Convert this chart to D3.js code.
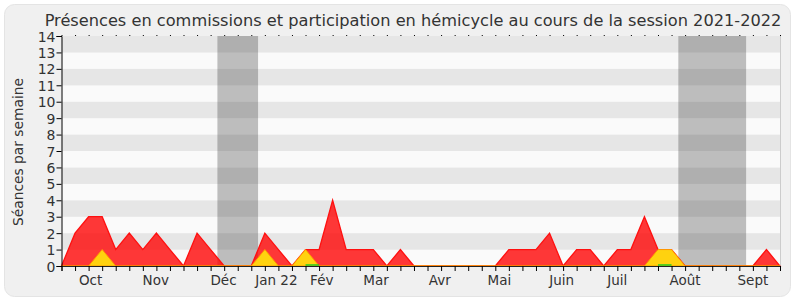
<!DOCTYPE html>
<html>
<head>
<meta charset="utf-8">
<script src="https://cdn.jsdelivr.net/npm/d3@7"></script>
<style>
  body { margin: 0; background: #fff; }
  text { font-family: "DejaVu Sans", sans-serif; fill: #333; }
</style>
</head>
<body>
<div id="chart"></div>
<script>
// Weekly values, session 2021-2022 (54 weeks)
const commissions = [0, 2, 3, 3, 1, 2, 1, 2, 1, 0, 2, 1, 0, 0, 0, 2, 1, 0, 1, 1,
    4, 1, 1, 1, 0, 1, 0, 0, 0, 0, 0, 0, 0, 1, 1, 1, 2, 0, 1, 1,
    0, 1, 1, 3, 1, 1, 0, 0, 0, 0, 0, 0, 1, 0]
const hemicycle = [0, 0, 0, 1, 0, 0, 0, 0, 0, 0, 0, 0, 0, 0, 0, 1, 0, 0, 1, 0,
    0, 0, 0, 0, 0, 0, 0, 0, 0, 0, 0, 0, 0, 0, 0, 0, 0, 0, 0, 0,
    0, 0, 0, 0, 1, 1, 0, 0, 0, 0, 0, 0, 0, 0]
const questions = [null, null, null, null, null, null, null, null, null, null, null, null, null, null, null, null, null, null, 0, 0,
    null, null, null, null, null, null, null, null, null, null, null, null, null, null, null, null, null, null, null, null,
    null, null, null, null, 0, 0, null, null, null, null, null, null, null, null]

// Month labels and their week index
const months = ["Oct", "Nov", "Déc", "Jan 22", "Fév", "Mar", "Avr", "Mai", "Juin", "Juil", "Août", "Sept"]
const monthWeeks = [2.15, 6.95, 11.95, 15.85, 19.2, 23.2, 27.9, 32.3, 36.9, 41, 46, 51]

// Parliamentary holidays (week index ranges)
const holidays = [[11.5, 14.5], [45.5, 50.5]]

const yTicks = d3.range(0, 15)

const W = 800, H = 300
const margin = {top: 36, right: 20, bottom: 34, left: 61.5}
const width = W - margin.left - margin.right
const height = H - margin.top - margin.bottom

const svg = d3.select("#chart").append("svg")
    .attr("width", W)
    .attr("height", H)

// frame
svg.append("rect")
    .attr("x", 4.5).attr("y", 4.5)
    .attr("width", 786).attr("height", 292)
    .attr("rx", 10)
    .attr("fill", "#f0f0f0")
    .attr("stroke", "#e4e4e4")

svg.append("text")
    .attr("x", 413)
    .attr("y", 26)
    .attr("text-anchor", "middle")
    .attr("font-size", "16.2px")
    .text("Présences en commissions et participation en hémicycle au cours de la session 2021-2022")

const g = svg.append("g")
    .attr("transform", "translate(" + margin.left + "," + margin.top + ")")

const x = d3.scaleLinear()
    .domain([0, commissions.length - 1])
    .range([0, width])
const y = d3.scaleLinear()
    .domain([0, 14])
    .range([height, 0])

// background bands
g.selectAll(".band")
    .data(d3.range(0, 14))
    .join("rect")
    .attr("class", "band")
    .attr("x", 0)
    .attr("width", width)
    .attr("y", d => y(d + 1))
    .attr("height", d => y(d) - y(d + 1))
    .attr("fill", d => d % 2 ? "#e6e6e6" : "#fafafa")

// holidays
g.selectAll(".holiday")
    .data(holidays)
    .join("rect")
    .attr("class", "holiday")
    .attr("x", d => x(d[0]))
    .attr("width", d => x(d[1]) - x(d[0]))
    .attr("y", 0)
    .attr("height", height)
    .attr("fill", "rgba(50,50,50,0.3)")

// right border
g.append("line")
    .attr("x1", width + 0.5).attr("x2", width + 0.5)
    .attr("y1", 0).attr("y2", height)
    .attr("stroke", "#cccccc")

const area = d3.area()
    .x((d, i) => x(i))
    .y0(y(0))
    .y1(d => y(d))

g.append("path")
    .datum(commissions)
    .attr("d", area)
    .attr("fill", "rgba(255,0,0,0.78)")
    .attr("stroke", "#ff1010")
    .attr("stroke-width", 1.3)

g.append("path")
    .datum(hemicycle)
    .attr("d", area)
    .attr("fill", "#ffd20f")
    .attr("stroke", "#ff9a00")
    .attr("stroke-width", 1)

g.append("path")
    .datum(questions)
    .attr("d", d3.line().defined(d => d !== null).x((d, i) => x(i)).y(d => y(d) - 1))
    .attr("fill", "none")
    .attr("stroke", "#22cc22")
    .attr("stroke-width", 1.5)

// axes
const xAxis = g.append("g")
    .attr("transform", "translate(0," + height + ")")
    .call(d3.axisBottom(x).tickValues(d3.range(commissions.length)).tickSize(5).tickFormat(""))
xAxis.select(".domain").attr("stroke", "#222")

g.append("g")
    .call(d3.axisTop(x).tickValues(d3.range(commissions.length)).tickSize(1).tickFormat(""))
    .call(a => a.select(".domain").remove())

const yAxis = g.append("g")
    .call(d3.axisLeft(y).tickValues(yTicks).tickSize(5).tickPadding(1))
yAxis.selectAll("text")
    .attr("font-size", "14px")
    .attr("font-family", "DejaVu Sans")
    .attr("fill", "#333")
    .attr("dy", "0.36em")

g.selectAll(".month")
    .data(months)
    .join("text")
    .attr("class", "month")
    .attr("x", (d, i) => x(monthWeeks[i]))
    .attr("y", height + 19)
    .attr("text-anchor", "middle")
    .attr("font-size", "13.5px")
    .text(d => d)

svg.append("text")
    .attr("transform", "translate(23,152) rotate(-90)")
    .attr("text-anchor", "middle")
    .attr("font-size", "13.8px")
    .text("Séances par semaine")
</script>
</body>
</html>
